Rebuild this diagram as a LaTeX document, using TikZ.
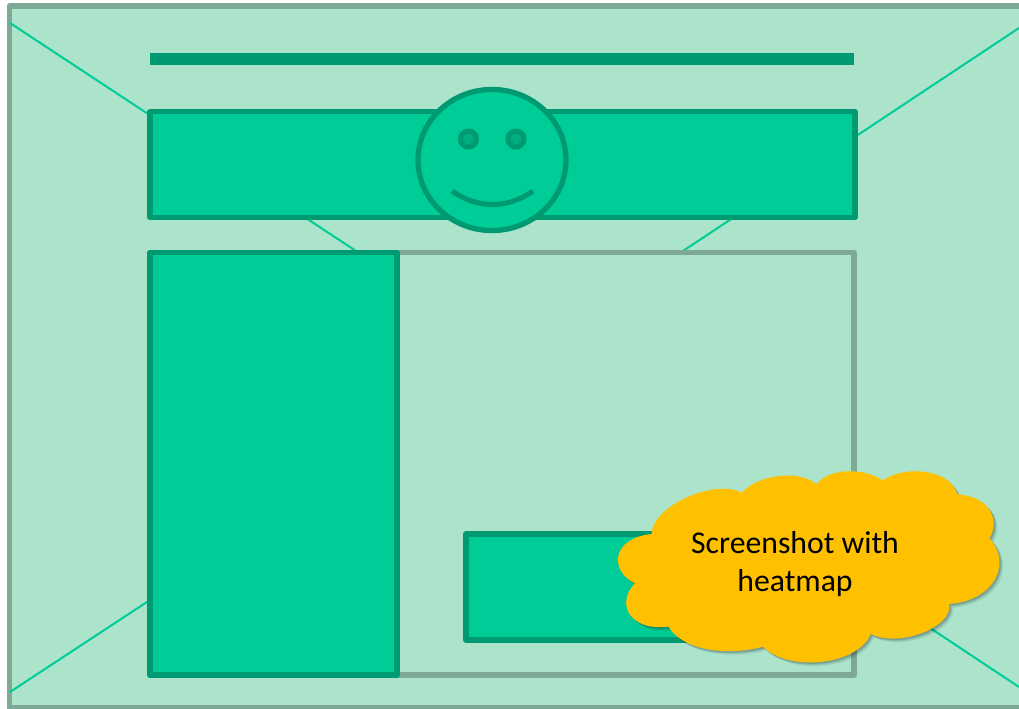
\documentclass[tikz,border=0pt]{standalone}
\usepackage{fontspec}
\setmainfont{Carlito}
\definecolor{bgc}{HTML}{ABE4CB}
\definecolor{fillc}{HTML}{00CC97}
\definecolor{darkc}{HTML}{009A72}
\definecolor{grayc}{HTML}{7EA996}
\definecolor{cloudc}{HTML}{FFC000}
\definecolor{eyec}{HTML}{00AD80}
\tikzset{
  box/.style={draw=darkc,fill=fillc,line width=4pt,line join=round},
  wire/.style={draw=fillc,line width=1.5pt},
  frame/.style={draw=grayc,line width=3.8pt,line join=round},
}
\newcommand{\cloudpath}{(155,252) .. controls (155,170) and (340,85) .. (425,128)
 .. controls (480,70) and (600,60) .. (650,103)
 .. controls (690,50) and (800,55) .. (848,92)
 .. controls (910,45) and (1050,55) .. (1072,133)
 .. controls (1175,140) and (1200,215) .. (1168,265)
 .. controls (1235,335) and (1190,450) .. (1048,462)
 .. controls (1060,530) and (900,595) .. (812,552)
 .. controls (770,650) and (560,665) .. (490,590)
 .. controls (400,615) and (255,610) .. (205,530)
 .. controls (90,545) and (45,460) .. (105,400)
 .. controls (30,365) and (30,265) .. (155,252) -- cycle}
\begin{document}
\begin{tikzpicture}[x=0.75pt,y=-0.75pt]
\useasboundingbox (0,0) rectangle (1019,709);
\fill[bgc] (9,6) rectangle (1019,707);
\draw[frame] (1022,6) -- (9.5,6) -- (9.5,708) -- (1022,708);
% named corners for the diagonals
\coordinate (tlA) at (10,23);
\coordinate (tlB) at (356,251);
\coordinate (trA) at (1019,28);
\coordinate (trB) at (683,251);
\coordinate (blA) at (10,692);
\coordinate (blB) at (150,600);
\coordinate (brA) at (1019,687);
\coordinate (brB) at (900,608);
\draw[wire] (tlA) -- (tlB);
\draw[wire] (trA) -- (trB);
\draw[wire] (blA) -- (blB);
\draw[wire] (brA) -- (brB);
% page frame
\draw[frame] (150,252.5) rectangle (854,675);
% title bar
\fill[darkc] (150,53) rectangle (854,65);
% banner
\draw[box] (150,111.5) rectangle (855,217.5);
% sidebar
\draw[box] (150,252.5) rectangle (397,675);
% button
\draw[box] (466,534) rectangle (720,640);
% smiley
\draw[box] (492,160) ellipse [x radius=74,y radius=70.5];
\draw[draw=darkc,fill=eyec,line width=3.8pt] (468.5,139) circle (8);
\draw[draw=darkc,fill=eyec,line width=3.8pt] (516,139) circle (8);
\draw[draw=darkc,line width=3.8pt] (452,191) .. controls (478,209) and (507,209) .. (533,191);
% cloud
\begin{scope}[shift={(600,450)},x=0.25pt,y=-0.25pt]
  \foreach \d/\o in {12/0.03,10/0.05,8/0.06,6/0.08,4/0.10}{
    \fill[black,opacity=\o,shift={(\d,\d)}] \cloudpath;
  }
  \fill[cloudc] \cloudpath;
\end{scope}
\node[align=center,font=\fontsize{23.8pt}{28.5pt}\selectfont,text=black,inner sep=0pt] (cloudtext) at (795,564) {Screenshot with\\heatmap};
\end{tikzpicture}
\end{document}
